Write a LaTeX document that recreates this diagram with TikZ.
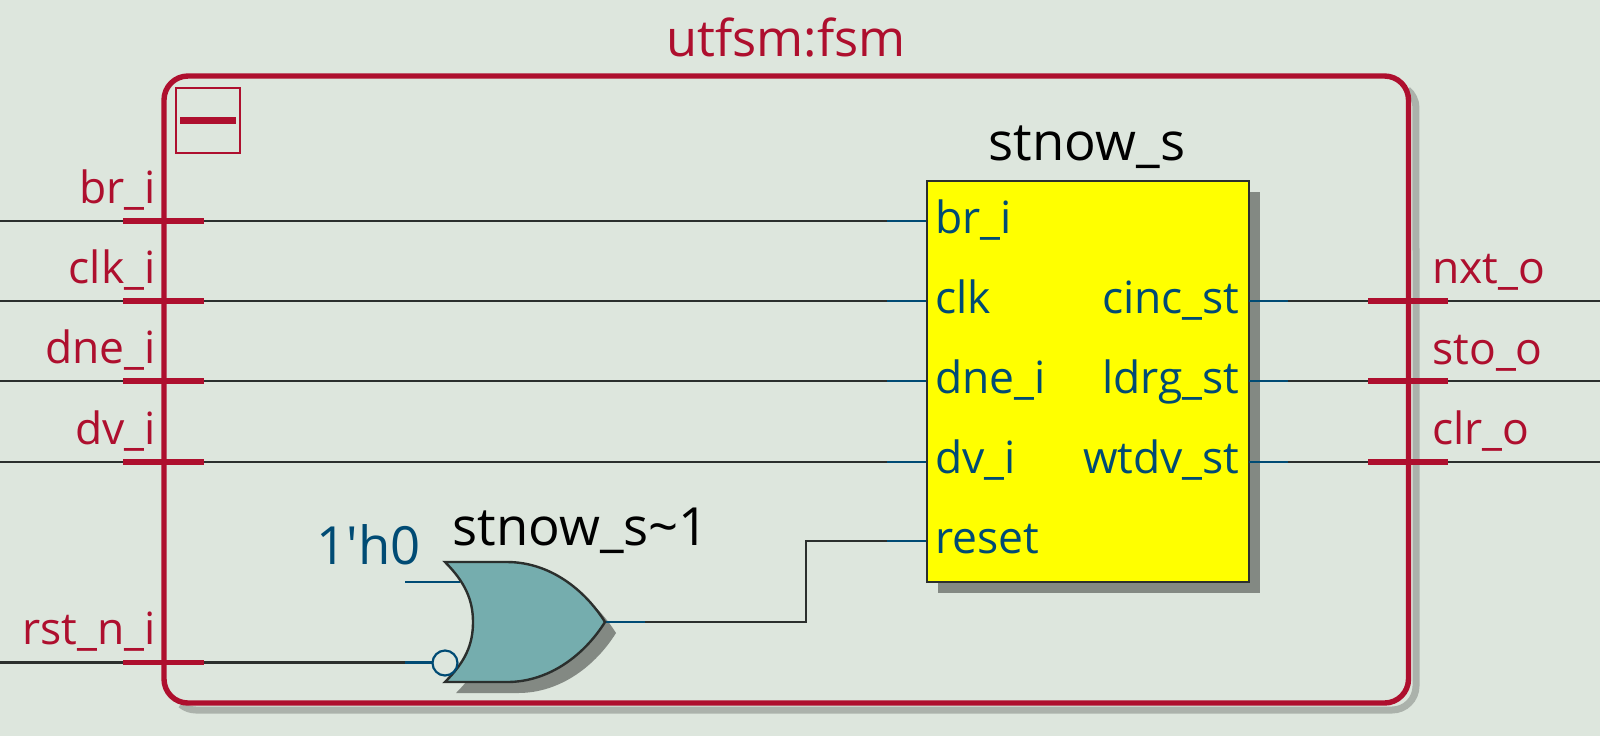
\documentclass[tikz,border=0pt]{standalone}
\usepackage{fontspec}
\newfontfamily\lblfont{Open Sans}
\definecolor{bg}{HTML}{DDE6DD}
\definecolor{fr}{HTML}{AE0F2E}
\definecolor{tealg}{HTML}{75ADAE}
\definecolor{shadf}{HTML}{ABB2AB}
\definecolor{shadg}{HTML}{838983}
\definecolor{pinb}{HTML}{004B74}
\definecolor{wirek}{HTML}{2B2F2D}
\definecolor{blockfill}{HTML}{FFFF00}
\tikzset{
  wire/.style={draw=wirek,line width=1.2pt},
  pinl/.style={draw=pinb,line width=1.2pt},
  tick/.style={draw=fr,line width=2.6pt},
  frameln/.style={draw=fr,line width=2.7pt},
  portl/.style={text=fr,font=\lblfont\fontsize{22.2}{24}\selectfont,inner sep=0pt},
  pint/.style={text=pinb,font=\lblfont\fontsize{22.2}{24}\selectfont,inner sep=0pt},
  title/.style={text=black,font=\lblfont\fontsize{26.3}{30}\selectfont,inner sep=0pt},
}
\begin{document}
\begin{tikzpicture}[x=0.5pt,y=-0.5pt]
\useasboundingbox[fill=bg] (0,0) rectangle (1600,736);
% frame shadow
\draw[draw=shadf,line width=3.5pt] (1407.4,89.6) arc[start angle=-50,end angle=0,radius=24] -- (1416,686) arc[start angle=0,end angle=90,radius=24] -- (196,710) arc[start angle=90,end angle=130,radius=24];
% named anchors
\foreach \n/\y in {br/221,clk/301,dne/381,dv/462}{
  \coordinate (in\n) at (0,\y);
  \coordinate (tk\n) at (164,\y);
  \coordinate (pin\n) at (927,\y);
  \coordinate (stub\n) at (887,\y);
}
\coordinate (inrst) at (0,662.5);
\coordinate (tkrst) at (164,662.5);
\foreach \n/\y in {nxt/301,sto/381,clr/462}{
  \coordinate (out\n) at (1600,\y);
  \coordinate (to\n) at (1408.5,\y);
  \coordinate (q\n) at (1249,\y);
  \coordinate (qs\n) at (1288,\y);
}
\coordinate (gatein) at (405,582);
\coordinate (gatepin) at (460,582);
\coordinate (bubin) at (405,662.5);
\coordinate (bubw) at (432,662.5);
\coordinate (gateout) at (605,622);
\coordinate (gatestub) at (645,622);
\coordinate (bend) at (806,622);
\coordinate (bendb) at (806,541);
\coordinate (rstpin) at (927,541);
\coordinate (rststub) at (887,541);
% wires
\foreach \n in {br,clk,dne,dv}{
  \draw[wire] (in\n) -- (stub\n);
  \draw[pinl] (stub\n) -- (pin\n);
}
\foreach \n in {nxt,sto,clr}{
  \draw[wire] (qs\n) -- (out\n);
}
\draw[wire] (inrst) -- (bubin);
\draw[pinl] (bubin) -- (bubw);
\draw[pinl] (gatein) -- (gatepin);
\draw[wire] (gatestub) -- (bend) -- (bendb) -- (rststub);
\draw[pinl] (rststub) -- (rstpin);
% frame
\draw[frameln,rounded corners=12pt] (164,76) rectangle (1408.5,703);
\node[draw=fr,line width=1pt,minimum width=32pt,minimum height=32.5pt,inner sep=0pt] (collapse) at (208,120.5) {};
\draw[draw=fr,line width=3.5pt] (collapse.center) ++(-28,0) -- ++(56,0);
% ticks
\foreach \n in {br,clk,dne,dv,rst}{
  \draw[tick] (tk\n) ++(-41,0) -- ++(81,0);
}
\foreach \n in {nxt,sto,clr}{
  \draw[tick] (to\n) ++(-40.5,0) -- ++(80,0);
}
% block
\fill[shadg] (938,192) rectangle (1260,593);
\node[draw=wirek,fill=blockfill,line width=1pt,minimum width=161pt,minimum height=200.5pt,inner sep=0pt] (blk) at (1088,381.5) {};
\foreach \n in {nxt,sto,clr}{
  \draw[pinl] (q\n) -- (qs\n);
}
% gate
\fill[shadg,shift={(11,11)}] (445,562) -- (507,562) .. controls (550,562) and (585,590) .. (605,622) .. controls (585,654) and (550,682) .. (507,682) -- (445,682) .. controls (465,662) and (473,645) .. (473,622) .. controls (473,600) and (465,582) .. (445,562) -- cycle;
\draw[pinl] (gateout) -- (gatestub);
\draw[draw=wirek,fill=tealg,line width=1.2pt,line join=miter] (445,562) -- (507,562) .. controls (550,562) and (585,590) .. (gateout) .. controls (585,654) and (550,682) .. (507,682) -- (445,682) .. controls (465,662) and (473,645) .. (473,622) .. controls (473,600) and (465,582) .. (445,562) -- cycle;
\node[circle,draw=pinb,line width=1.1pt,minimum size=12.5pt,inner sep=0pt] (bubble) at (445,663) {};
% titles
\node[title,text=fr,font=\lblfont\fontsize{25.3}{30}\selectfont,anchor=base] (ttl) at (786,56) {utfsm:fsm};
\node[title,anchor=base] (tblk) at (1087,160) {stnow\_s};
\node[title,anchor=base west] (tgate) at (452,545) {stnow\_s\char`~1};
\node[title,text=pinb,anchor=base east] (konst) at (421,564) {1'h0};
% pin text
\node[pint,anchor=base west] (pbr) at (935,233) {br\_i};
\node[pint,anchor=base west] (pclk) at (935,313) {clk};
\node[pint,anchor=base west] (pdne) at (935,393) {dne\_i};
\node[pint,anchor=base west] (pdv) at (935,473) {dv\_i};
\node[pint,anchor=base west] (prst) at (935,553) {reset};
\node[pint,anchor=base east] (pcinc) at (1240,313) {cinc\_st};
\node[pint,anchor=base east] (pldrg) at (1240,393) {ldrg\_st};
\node[pint,anchor=base east] (pwtdv) at (1240,473) {wtdv\_st};
% port text
\node[portl,anchor=base east] (lbr) at (156,203) {br\_i};
\node[portl,anchor=base east] (lclk) at (156,283) {clk\_i};
\node[portl,anchor=base east] (ldne) at (156,363) {dne\_i};
\node[portl,anchor=base east] (ldv) at (156,444) {dv\_i};
\node[portl,anchor=base east] (lrst) at (156,644) {rst\_n\_i};
\node[portl,anchor=base west] (lnxt) at (1432,283) {nxt\_o};
\node[portl,anchor=base west] (lsto) at (1432,364) {sto\_o};
\node[portl,anchor=base west] (lclr) at (1432,444) {clr\_o};
\end{tikzpicture}
\end{document}
